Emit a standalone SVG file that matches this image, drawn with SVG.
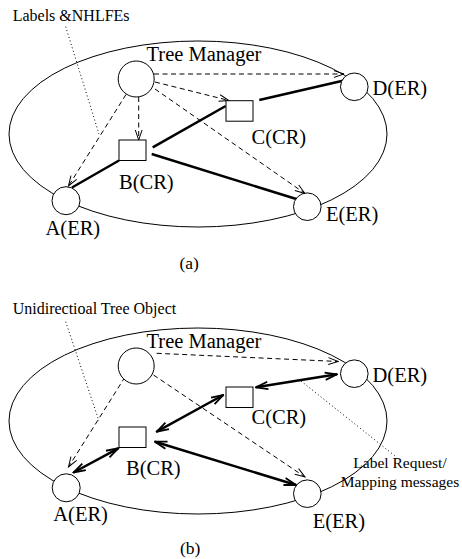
<svg xmlns="http://www.w3.org/2000/svg" width="462" height="559" viewBox="0 0 462 559">
<style>
text{font-family:"Liberation Serif","Times New Roman",serif;fill:#000}
.nl{font-size:20.5px}
.sm{font-size:16px}
.cap{font-size:17.5px}
.ell{fill:none;stroke:#000;stroke-width:1}
.node{fill:#fff;stroke:#000;stroke-width:1}
.dash{fill:none;stroke:#000;stroke-width:1;stroke-dasharray:5,3.5}
.thick{fill:none;stroke:#000;stroke-width:2.5}
.dot{fill:none;stroke:#000;stroke-width:1;stroke-dasharray:1,2.6}
</style>
<defs>
<marker id="ad" markerUnits="userSpaceOnUse" markerWidth="12" markerHeight="10" viewBox="0 0 12 10" refX="11" refY="5" orient="auto">
<path d="M1,1.6 L11,5 L1,8.4" fill="none" stroke="#000" stroke-width="1"/>
</marker>
<marker id="at" markerUnits="userSpaceOnUse" markerWidth="14" markerHeight="10" viewBox="0 0 14 10" refX="13" refY="5" orient="auto-start-reverse">
<path d="M1,1.3 L13,5 L1,8.7" fill="none" stroke="#000" stroke-width="1.8"/>
</marker>
</defs>

<!-- (a) -->
<ellipse class="ell" cx="198" cy="134" rx="189" ry="93"/>
<text class="sm" x="12.7" y="20.7">Labels &amp;NHLFEs</text>
<text class="cap" x="179.5" y="268.5">(a)</text>

<!-- (b) -->
<ellipse class="ell" cx="198" cy="421" rx="189" ry="93"/>
<text class="sm" x="12.7" y="313.5">Unidirectioal Tree Object</text>
<text class="cap" x="180" y="553.5">(b)</text>
<text style="font-size:15.5px" x="400" y="468.3" text-anchor="middle">Label Request/</text>
<text style="font-size:15.5px" x="400" y="486.7" text-anchor="middle">Mapping messages</text>

<g id="connectors">
<!-- (a) -->
<path class="dot" d="M65.7,26.7 L99,134"/>
<path class="dash" d="M154,74 L344,74" marker-end="url(#ad)"/>
<path class="dash" d="M155,82 L229,100.5" marker-end="url(#ad)"/>
<path class="dash" d="M138.7,97 L138.7,140" marker-end="url(#ad)"/>
<path class="dash" d="M126,94.5 L68.5,186" marker-end="url(#ad)"/>
<path class="dash" d="M155,89 L305,193.5" marker-end="url(#ad)"/>
<path class="thick" d="M72,187.5 L119,160.5"/>
<path class="thick" d="M152.7,147.3 L225.7,106"/>
<path class="thick" d="M151.7,154 L299.5,200"/>
<path class="thick" d="M259.3,100 L346,80"/>
<!-- (b) -->
<path class="dot" d="M65.7,321.7 L99,421"/>
<path class="dot" d="M301,381 L395,456"/>
<path class="dash" d="M156.7,353.3 L338.3,361.5" marker-end="url(#ad)"/>
<path class="dash" d="M125,377 L68.5,467" marker-end="url(#ad)"/>
<path class="dash" d="M153.5,375 L305,477" marker-end="url(#ad)"/>
<path class="thick" d="M73.5,472.5 L118.3,448.3" marker-start="url(#at)" marker-end="url(#at)"/>
<path class="thick" d="M156.7,431.7 L223.3,395" marker-start="url(#at)" marker-end="url(#at)"/>
<path class="thick" d="M155,441.7 L296,485" marker-start="url(#at)" marker-end="url(#at)"/>
<path class="thick" d="M256,387.3 L337,374.3" marker-start="url(#at)" marker-end="url(#at)"/>
</g>

<g id="a-tm"><circle class="node" cx="136.2" cy="79" r="18"/><text class="nl" x="146.5" y="61">Tree Manager</text></g>
<g id="a-A"><circle class="node" cx="66" cy="200.7" r="14"/><text class="nl" x="45.5" y="235">A(ER)</text></g>
<g id="a-B"><rect class="node" x="119" y="140" width="27" height="20.5"/><text class="nl" x="119" y="188.5">B(CR)</text></g>
<g id="a-C"><rect class="node" x="226" y="100.7" width="27" height="20.5"/><text class="nl" x="251.5" y="143.5">C(CR)</text></g>
<g id="a-D"><circle class="node" cx="354.3" cy="86.8" r="13.8"/><text class="nl" x="372.5" y="94.5">D(ER)</text></g>
<g id="a-E"><circle class="node" cx="307.3" cy="206.7" r="13.8"/><text class="nl" x="326" y="221">E(ER)</text></g>

<g id="b-tm"><circle class="node" cx="136.2" cy="366" r="18"/><text class="nl" x="146.5" y="347.5">Tree Manager</text></g>
<g id="b-A"><circle class="node" cx="66.2" cy="487.8" r="14"/><text class="nl" x="53.3" y="521">A(ER)</text></g>
<g id="b-B"><rect class="node" x="119" y="427" width="27" height="20.5"/><text class="nl" x="126" y="474.5">B(CR)</text></g>
<g id="b-C"><rect class="node" x="226" y="387" width="27" height="20.5"/><text class="nl" x="251.5" y="423.5">C(CR)</text></g>
<g id="b-D"><circle class="node" cx="354.3" cy="373.7" r="13.8"/><text class="nl" x="372.5" y="381.5">D(ER)</text></g>
<g id="b-E"><circle class="node" cx="307.3" cy="493.7" r="13.8"/><text class="nl" x="312.7" y="528.3">E(ER)</text></g>
</svg>
